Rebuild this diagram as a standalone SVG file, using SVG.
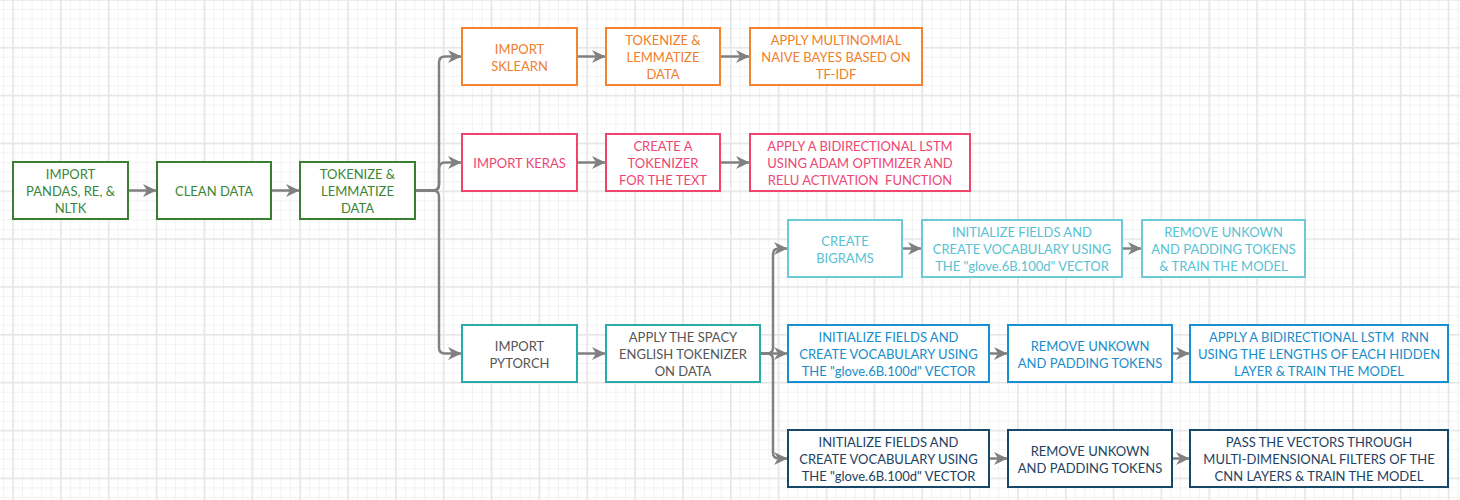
<svg xmlns="http://www.w3.org/2000/svg" width="1460" height="500" viewBox="0 0 1460 500">
<style>
  .box{fill:#ffffff;stroke-width:2}
  text{font-family:Lato,"Open Sans","Liberation Sans",sans-serif;font-size:13px;text-anchor:middle;white-space:pre}
  .g rect{stroke:#3a7e33} .g text{fill:#3b8636}
  .o rect{stroke:#f5822f} .o text{fill:#f07e2c}
  .p rect{stroke:#f0456c} .p text{fill:#ee4673}
  .t rect{stroke:#27aca9} .t text{fill:#555555}
  .c rect{stroke:#6ccad7} .c text{fill:#58c2d3}
  .b rect{stroke:#1690d2} .b text{fill:#198dcb}
  .v rect{stroke:#174867} .v text{fill:#1d4262}
  .conn path{fill:none;stroke:#808080;stroke-width:2.5;marker-end:url(#arr)}
</style>
<defs>
  <marker id="arr" markerUnits="userSpaceOnUse" viewBox="0 0 14 14" markerWidth="14" markerHeight="14" refX="13" refY="7" orient="auto">
    <path d="M0,0.5 L13.5,7 L0,13.5 L4,7 Z" fill="#808080"/>
  </marker>
  <pattern id="minor" patternUnits="userSpaceOnUse" x="12.5" y="47.2" width="9.57" height="9.57">
    <path d="M0.5,0 V9.57 M0,0.5 H9.57" stroke="#f2f2f2" stroke-width="1" fill="none"/>
  </pattern>
  <pattern id="major" patternUnits="userSpaceOnUse" x="12.2" y="46.9" width="47.85" height="47.85">
    <rect x="0" y="0" width="1.6" height="47.85" fill="#e6e6e6"/>
    <rect x="0" y="0" width="47.85" height="1.6" fill="#e6e6e6"/>
  </pattern>
</defs>
<rect width="1460" height="500" fill="#ffffff"/>
<rect width="1460" height="500" fill="url(#minor)"/>
<rect width="1460" height="500" fill="url(#major)"/>

<g id="connectors" class="conn">
  <path d="M128,190.5 H156"/>
  <path d="M271,190.5 H299"/>
  <path d="M415,190.5 H433 Q439,190.5 439,184.5 V62.5 Q439,56.5 445,56.5 H461"/>
  <path d="M415,190.5 H433 Q439,190.5 439,184.5 V168.5 Q439,162.5 445,162.5 H461"/>
  <path d="M415,190.5 H433 Q439,190.5 439,196.5 V347.5 Q439,353.5 445,353.5 H461"/>
  <path d="M577,56.5 H605"/>
  <path d="M720,56.5 H749"/>
  <path d="M577,162.5 H605"/>
  <path d="M720,162.5 H749"/>
  <path d="M577,353.5 H605"/>
  <path d="M760,353.5 H767 Q773,353.5 773,347.5 V254.5 Q773,248.5 779,248.5 H787"/>
  <path d="M760,353.5 H787"/>
  <path d="M760,353.5 H767 Q773,353.5 773,359.5 V452.5 Q773,458.5 779,458.5 H787"/>
  <path d="M902,248.5 H921"/>
  <path d="M1122,248.5 H1141"/>
  <path d="M989,353.5 H1007"/>
  <path d="M1172,353.5 H1189"/>
  <path d="M989,458.5 H1007"/>
  <path d="M1172,458.5 H1189"/>
</g>

<g id="n1" class="g"><rect class="box" x="13" y="162" width="115" height="57"/>
  <text x="70.5" y="179">IMPORT</text><text x="70.5" y="196">PANDAS, RE, &amp;</text><text x="70.5" y="213">NLTK</text></g>
<g id="n2" class="g"><rect class="box" x="157" y="162" width="114" height="57"/>
  <text x="214" y="196">CLEAN DATA</text></g>
<g id="n3" class="g"><rect class="box" x="300" y="162" width="115" height="57"/>
  <text x="357.5" y="179">TOKENIZE &amp;</text><text x="357.5" y="196">LEMMATIZE</text><text x="357.5" y="213">DATA</text></g>

<g id="o1" class="o"><rect class="box" x="462" y="28" width="115" height="57"/>
  <text x="519.5" y="53.5">IMPORT</text><text x="519.5" y="71">SKLEARN</text></g>
<g id="o2" class="o"><rect class="box" x="606" y="28" width="114" height="57"/>
  <text x="663" y="45">TOKENIZE &amp;</text><text x="663" y="62">LEMMATIZE</text><text x="663" y="79">DATA</text></g>
<g id="o3" class="o"><rect class="box" x="750" y="28" width="172" height="57"/>
  <text x="836" y="45">APPLY MULTINOMIAL</text><text x="836" y="62">NAIVE BAYES BASED ON</text><text x="836" y="79">TF-IDF</text></g>

<g id="p1" class="p"><rect class="box" x="462" y="134" width="115" height="57"/>
  <text x="519.5" y="168">IMPORT KERAS</text></g>
<g id="p2" class="p"><rect class="box" x="606" y="134" width="114" height="57"/>
  <text x="663" y="151">CREATE A</text><text x="663" y="168">TOKENIZER</text><text x="663" y="185">FOR THE TEXT</text></g>
<g id="p3" class="p"><rect class="box" x="750" y="134" width="220" height="57"/>
  <text x="860" y="151">APPLY A BIDIRECTIONAL LSTM</text><text x="860" y="168">USING ADAM OPTIMIZER AND</text><text x="860" y="185" xml:space="preserve">RELU ACTIVATION  FUNCTION</text></g>

<g id="t1" class="t"><rect class="box" x="462" y="325" width="115" height="57"/>
  <text x="519.5" y="350.5">IMPORT</text><text x="519.5" y="368">PYTORCH</text></g>
<g id="t2" class="t"><rect class="box" x="606" y="325" width="154" height="57"/>
  <text x="683" y="342">APPLY THE SPACY</text><text x="683" y="359">ENGLISH TOKENIZER</text><text x="683" y="376">ON DATA</text></g>

<g id="c1" class="c"><rect class="box" x="788" y="220" width="114" height="57"/>
  <text x="845" y="245.5">CREATE</text><text x="845" y="263">BIGRAMS</text></g>
<g id="c2" class="c"><rect class="box" x="922" y="220" width="200" height="57"/>
  <text x="1022" y="237">INITIALIZE FIELDS AND</text><text x="1022" y="254">CREATE VOCABULARY USING</text><text x="1022" y="271">THE "glove.6B.100d" VECTOR</text></g>
<g id="c3" class="c"><rect class="box" x="1142" y="220" width="163" height="57"/>
  <text x="1223.5" y="237">REMOVE UNKOWN</text><text x="1223.5" y="254">AND PADDING TOKENS</text><text x="1223.5" y="271">&amp; TRAIN THE MODEL</text></g>

<g id="b1" class="b"><rect class="box" x="788" y="325" width="201" height="57"/>
  <text x="888.5" y="342">INITIALIZE FIELDS AND</text><text x="888.5" y="359">CREATE VOCABULARY USING</text><text x="888.5" y="376">THE "glove.6B.100d" VECTOR</text></g>
<g id="b2" class="b"><rect class="box" x="1008" y="325" width="164" height="57"/>
  <text x="1090" y="350.5">REMOVE UNKOWN</text><text x="1090" y="368">AND PADDING TOKENS</text></g>
<g id="b3" class="b"><rect class="box" x="1190" y="325" width="258" height="57"/>
  <text x="1319" y="342" xml:space="preserve">APPLY A BIDIRECTIONAL LSTM  RNN</text><text x="1319" y="359">USING THE LENGTHS OF EACH HIDDEN</text><text x="1319" y="376">LAYER &amp; TRAIN THE MODEL</text></g>

<g id="v1" class="v"><rect class="box" x="788" y="430" width="201" height="57"/>
  <text x="888.5" y="447">INITIALIZE FIELDS AND</text><text x="888.5" y="464">CREATE VOCABULARY USING</text><text x="888.5" y="481">THE "glove.6B.100d" VECTOR</text></g>
<g id="v2" class="v"><rect class="box" x="1008" y="430" width="164" height="57"/>
  <text x="1090" y="455.5">REMOVE UNKOWN</text><text x="1090" y="473">AND PADDING TOKENS</text></g>
<g id="v3" class="v"><rect class="box" x="1190" y="430" width="258" height="57"/>
  <text x="1319" y="447">PASS THE VECTORS THROUGH</text><text x="1319" y="464">MULTI-DIMENSIONAL FILTERS OF THE</text><text x="1319" y="481">CNN LAYERS &amp; TRAIN THE MODEL</text></g>
</svg>
